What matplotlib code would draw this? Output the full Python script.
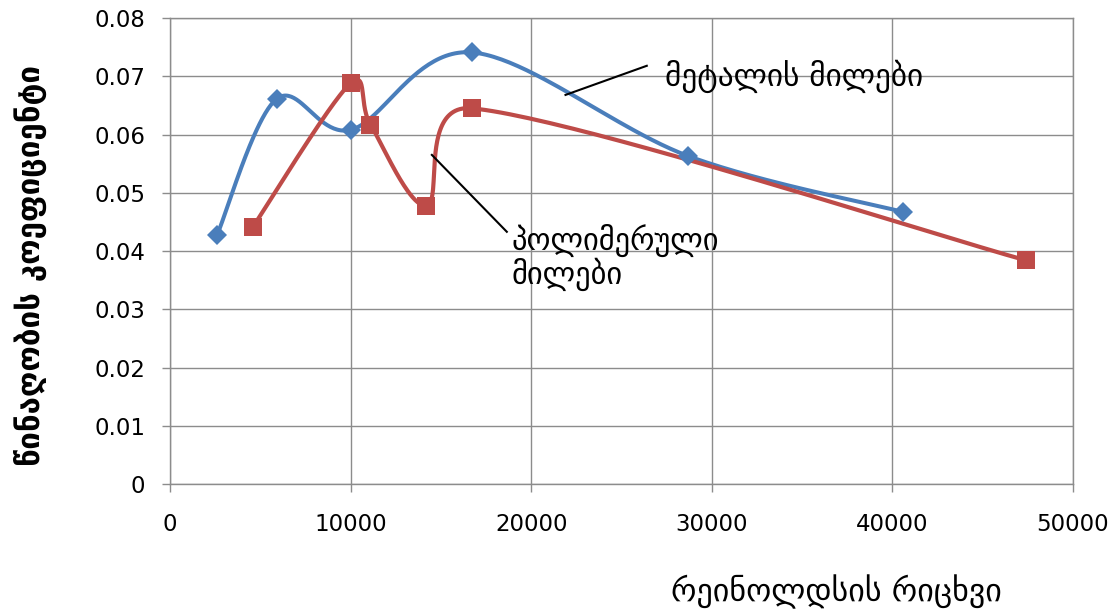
import matplotlib
matplotlib.use("Agg")
import matplotlib.pyplot as plt
import numpy as np

# data
metal_re = [2600, 5900, 10000, 16700, 28700, 40600]
metal_k = [0.0427, 0.0661, 0.0608, 0.0741, 0.0563, 0.0467]
poly_re = [4600, 10000, 11100, 14200, 16700, 47400]
poly_k = [0.0442, 0.0688, 0.0617, 0.0478, 0.0645, 0.0384]

xticks = [0, 10000, 20000, 30000, 40000, 50000]
yticks = [0, 0.01, 0.02, 0.03, 0.04, 0.05, 0.06, 0.07, 0.08]
ytick_labels = ["0", "0.01", "0.02", "0.03", "0.04", "0.05", "0.06", "0.07", "0.08"]

plt.rcParams['font.family'] = ['DejaVu Sans']

fig = plt.figure(figsize=(11.17, 6.13), dpi=100)
ax = fig.add_axes([0.1522, 0.2104, 0.8084, 0.7602])
ax.set_xlim(0, 50000)
ax.set_ylim(0, 0.08)


def smooth(xs, ys, n=50):
    # excel-like bezier smoothing in pixel space, handles clamped to half the segment
    pts = ax.transData.transform(np.column_stack([xs, ys]))
    out = []
    m = len(pts)
    for i in range(m - 1):
        p0 = pts[i - 1] if i > 0 else pts[i]
        p1 = pts[i]
        p2 = pts[i + 1]
        p3 = pts[i + 2] if i + 2 < m else pts[i + 1]
        d = np.hypot(*(p2 - p1))
        v1 = (p2 - p0) / 6.0
        v2 = (p3 - p1) / 6.0
        for v in (v1, v2):
            L = np.hypot(*v)
            if L > 0.5 * d:
                v *= 0.5 * d / L
        c1 = p1 + v1
        c2 = p2 - v2
        t = np.linspace(0, 1, n)[:, None]
        seg = ((1 - t) ** 3) * p1 + 3 * ((1 - t) ** 2) * t * c1 + 3 * (1 - t) * t * t * c2 + t ** 3 * p2
        out.append(seg)
    curve = np.vstack(out)
    return ax.transData.inverted().transform(curve)


blue = '#4A7EBB'
red = '#BE4B48'

c = smooth(metal_re, metal_k)
ax.plot(c[:, 0], c[:, 1], color=blue, lw=2.9, zorder=3, solid_capstyle='round')
ax.plot(metal_re, metal_k, 'D', color=blue, ms=10, mew=0, zorder=4)

c = smooth(poly_re, poly_k)
ax.plot(c[:, 0], c[:, 1], color=red, lw=3.0, zorder=3, solid_capstyle='round')
ax.plot(poly_re, poly_k, 's', color=red, ms=13, mew=0, zorder=4)

ax.set_xticks(xticks)
ax.set_yticks(yticks)
ax.set_yticklabels(ytick_labels)
ax.grid(True, color='#8C8C8C', lw=1)
ax.set_axisbelow(True)
for s in ax.spines.values():
    s.set_color('#8C8C8C')
    s.set_linewidth(1)
ax.tick_params(axis='both', colors='#8C8C8C', length=6, width=1, labelsize=16.5, labelcolor='black')
ax.tick_params(axis='y', pad=12)
ax.tick_params(axis='x', pad=15)

# annotations
ax.plot([21900, 26400], [0.0668, 0.0718], color='black', lw=1.5, zorder=5)
ax.text(27400, 0.0700, "მეტალის მილები", fontsize=22.5, va='center', ha='left')
ax.plot([14500, 18650], [0.0565, 0.0433], color='black', lw=1.5, zorder=5)
ax.text(18900, 0.0447, "პოლიმერული\nმილები", fontsize=22, va='top', ha='left', linespacing=1.05)

fig.text(30 / 1117, 1 - 266 / 613, "წინაღობის კოეფიციენტი", rotation=90, fontsize=22.5,
         fontweight='bold', ha='center', va='center')
fig.text(836 / 1117, 1 - 592 / 613, "რეინოლდსის რიცხვი", fontsize=23,
         ha='center', va='center')

fig.savefig("out.png", dpi=100)
